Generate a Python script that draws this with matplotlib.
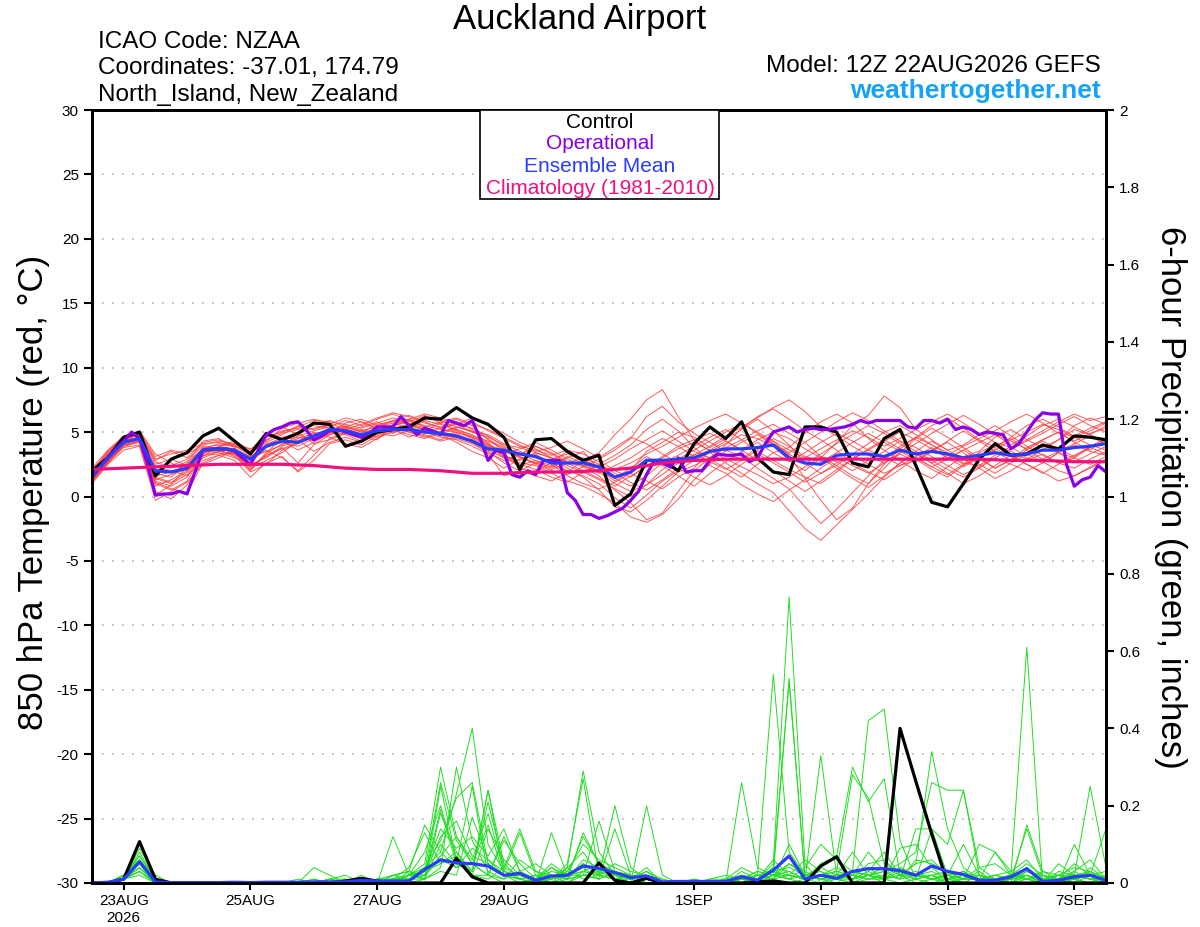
import matplotlib
matplotlib.use('Agg')
import matplotlib.pyplot as plt
from matplotlib.patches import Rectangle
import pandas as pd

plt.rcParams['font.family'] = ['Liberation Sans', 'DejaVu Sans']
plt.rcParams['axes.unicode_minus'] = False

# time axes (GEFS run 12Z 22AUG2026)
times6 = pd.date_range('2026-08-22 12:00', periods=65, freq='6h')
times3 = pd.date_range('2026-08-22 12:00', periods=129, freq='3h')
times12 = pd.date_range('2026-08-22 12:00', periods=33, freq='12h')

tick_dates = ['2026-08-23', '2026-08-25', '2026-08-27', '2026-08-29',
              '2026-09-01', '2026-09-03', '2026-09-05', '2026-09-07']
tick_labels = ['23AUG\n2026', '25AUG', '27AUG', '29AUG', '1SEP', '3SEP', '5SEP', '7SEP']

# 850 hPa temperature (C)
control_t = [2.0, 3.0, 4.6, 5.0, 1.6, 2.9, 3.4, 4.7, 5.3, 4.3, 3.3, 4.9, 4.4, 4.9, 5.7, 5.6,
             3.9, 4.3, 5.0, 5.2, 5.4, 6.1, 6.0, 6.9, 6.1, 5.6, 4.6, 2.1, 4.4, 4.5, 3.5, 2.8,
             3.2, -0.7, 0.2, 2.8, 2.8, 2.0, 4.1, 5.4, 4.5, 5.8, 3.0, 1.9, 1.7, 5.4, 5.4, 5.0,
             2.6, 2.3, 4.5, 5.2, 2.4, -0.45, -0.8, 1.0, 2.9, 4.1, 3.2, 3.3, 4.0, 3.7, 4.7, 4.6,
             4.4]
mean_t = [1.5, 3.0, 4.2, 4.5, 2.0, 1.9, 2.2, 3.6, 3.7, 3.6, 2.9, 3.9, 4.3, 4.2, 4.7, 5.2,
          5.1, 4.8, 5.1, 5.2, 5.2, 5.0, 4.9, 4.7, 4.3, 3.7, 3.6, 3.3, 3.1, 2.6, 2.6, 2.6,
          2.3, 1.5, 1.9, 2.8, 2.8, 2.9, 3.0, 3.5, 3.7, 3.7, 3.8, 4.0, 3.0, 2.6, 2.5, 3.2,
          3.3, 3.3, 3.1, 3.6, 3.3, 3.5, 3.3, 3.0, 3.2, 3.4, 3.2, 3.3, 3.6, 3.6, 3.8, 3.9,
          4.1]
oper_t = [1.5, 2.3, 3.0, 3.7, 4.3, 5.0, 4.5, 2.5, 0.1, 0.2, 0.2, 0.4, 0.2, 1.9, 3.6, 3.7,
          3.7, 3.7, 3.5, 3.0, 2.5, 3.6, 4.8, 5.2, 5.4, 5.7, 5.8, 5.2, 4.4, 4.7, 5.1, 5.2,
          5.0, 4.8, 4.6, 4.9, 5.4, 5.4, 5.4, 6.2, 5.5, 4.8, 5.3, 5.1, 4.8, 5.9, 5.7, 5.5,
          5.9, 4.5, 2.8, 3.6, 3.4, 1.7, 1.5, 2.0, 1.7, 2.8, 2.8, 2.8, 0.3, -0.3, -1.4, -1.4,
          -1.7, -1.5, -1.2, -0.9, -0.3, 0.4, 1.7, 2.8, 2.6, 2.3, 3.0, 1.9, 2.0, 2.0, 2.8, 3.3,
          3.2, 3.2, 3.3, 2.7, 3.0, 4.1, 5.0, 5.2, 5.4, 5.0, 5.2, 5.3, 5.2, 5.2, 5.3, 5.4,
          5.6, 5.9, 5.7, 5.9, 5.9, 5.9, 5.9, 5.4, 5.3, 5.9, 5.9, 5.7, 6.0, 5.2, 5.4, 5.2,
          4.8, 5.0, 4.9, 4.8, 3.7, 4.1, 5.0, 5.9, 6.5, 6.4, 6.4, 2.5, 0.8, 1.3, 1.5, 2.4,
          1.9]
clim_t = [2.1, 2.2, 2.3, 2.4, 2.5, 2.5, 2.5, 2.4, 2.2, 2.1, 2.1, 2.0, 1.8, 1.8, 1.9, 1.9,
          2.0, 2.2, 2.6, 2.8, 2.9, 2.9, 2.9, 2.9, 2.9, 2.9, 2.9, 2.9, 2.9, 2.8, 2.8, 2.7,
          2.7]

# ensemble members, temperature
t01 = [1.8, 3.2, 4.4, 4.8, 2.5, 2.9, 2.4, 3.8, 4.0, 3.9, 3.2, 4.6, 5.1, 5.3, 5.6, 5.9, 5.4, 5.0, 5.6, 5.8, 6.0, 5.5, 5.2, 5.0, 4.6, 4.2, 3.0, 2.4, 2.8, 2.2, 3.0, 3.5, 2.1, 1.2, 2.0, 3.5, 4.2, 5.0, 4.6, 3.8, 4.5, 5.2, 6.0, 5.1, 4.0, 2.6, 1.8, 2.4, 3.3, 4.1, 5.0, 5.5, 4.8, 4.0, 3.2, 2.5, 3.0, 3.6, 4.4, 5.0, 5.6, 5.2, 4.7, 5.3, 5.8]
t02 = [1.3, 2.8, 4.0, 4.3, 1.2, 0.8, 1.5, 3.2, 3.5, 3.3, 2.5, 3.0, 3.8, 2.6, 4.0, 4.8, 5.2, 4.6, 4.4, 5.5, 5.9, 5.4, 4.8, 4.2, 3.5, 3.0, 2.2, 2.9, 3.4, 3.0, 2.2, 1.5, 0.5, -0.8, -1.2, -0.3, 0.8, 1.9, 2.4, 3.0, 3.8, 4.4, 5.1, 5.6, 4.9, 4.2, 3.1, 2.4, 1.6, 1.0, 2.2, 3.4, 4.5, 5.3, 4.6, 3.8, 3.0, 2.2, 2.9, 3.8, 4.4, 5.0, 4.2, 3.6, 4.5]
t03 = [1.6, 3.0, 4.3, 4.9, 2.8, 3.5, 3.0, 4.2, 4.4, 4.0, 3.4, 4.2, 4.8, 5.5, 5.2, 5.6, 6.1, 5.8, 5.2, 5.0, 5.6, 6.2, 5.9, 5.4, 5.0, 4.8, 4.1, 3.5, 3.0, 2.6, 2.0, 1.8, 2.5, 3.2, 4.0, 5.2, 6.0, 5.1, 3.8, 2.9, 2.2, 1.5, 2.5, 3.4, 3.8, 4.9, 5.8, 6.4, 5.7, 4.5, 3.6, 2.8, 2.0, 1.4, 2.3, 3.1, 3.5, 4.6, 5.2, 4.4, 3.8, 4.4, 5.5, 6.1, 5.6]
t04 = [2.0, 3.5, 4.6, 4.7, 1.5, 1.1, 1.9, 3.5, 3.8, 3.5, 2.9, 3.6, 3.0, 2.0, 3.2, 4.5, 5.0, 5.4, 5.8, 5.2, 4.6, 5.1, 5.7, 6.0, 5.5, 4.4, 3.8, 3.2, 3.9, 3.4, 2.7, 2.3, 1.6, 0.5, -0.5, -1.8, -1.3, 0.4, 2.0, 3.0, 3.3, 2.9, 3.8, 4.3, 3.2, 1.4, -0.3, -1.8, -0.9, 1.0, 2.5, 3.7, 4.6, 4.0, 3.4, 2.6, 2.4, 3.2, 3.9, 3.0, 2.6, 3.4, 4.0, 3.5, 3.2]
t05 = [1.2, 2.6, 3.9, 4.2, 0.4, -0.2, 0.9, 2.8, 3.2, 3.4, 2.0, 3.3, 4.1, 4.5, 4.9, 5.0, 4.8, 4.3, 4.9, 5.3, 5.0, 4.8, 4.4, 4.9, 4.2, 3.5, 2.6, 2.0, 1.6, 1.2, 1.9, 2.8, 3.4, 4.8, 6.0, 7.5, 8.3, 6.2, 4.4, 3.5, 4.1, 4.8, 4.5, 3.9, 2.8, 2.0, 3.0, 4.2, 5.5, 6.3, 7.8, 6.9, 5.2, 4.4, 3.6, 4.0, 4.8, 5.5, 4.7, 3.9, 3.2, 2.6, 3.0, 3.8, 4.3]
t06 = [1.7, 3.1, 4.1, 4.4, 2.0, 2.4, 2.9, 3.9, 3.6, 3.2, 1.9, 2.5, 3.6, 4.1, 4.6, 5.2, 5.5, 5.1, 5.4, 5.7, 5.3, 4.9, 5.3, 5.6, 5.0, 4.6, 4.0, 3.8, 3.4, 3.0, 2.7, 2.4, 2.0, 1.4, 0.8, 1.6, 2.6, 3.2, 3.9, 4.6, 5.2, 4.4, 3.5, 2.8, 2.1, 1.5, 1.0, 1.9, 2.9, 3.6, 3.1, 2.4, 2.8, 3.6, 4.2, 3.4, 2.5, 1.8, 2.6, 3.3, 2.7, 2.0, 1.6, 2.2, 2.8]
t07 = [1.4, 2.9, 4.5, 5.1, 3.3, 2.6, 2.0, 3.1, 3.9, 4.3, 3.6, 4.9, 5.4, 4.8, 4.3, 5.0, 5.7, 6.0, 5.5, 5.9, 6.3, 5.8, 5.3, 5.8, 5.2, 4.1, 3.2, 2.6, 2.4, 1.8, 1.2, 0.8, 0.2, -0.5, -1.6, -2.0, -1.4, -0.2, 1.3, 2.5, 3.6, 3.1, 2.2, 1.4, 0.6, -0.8, -2.1, -1.0, 0.3, 1.6, 2.8, 3.9, 4.6, 5.5, 6.1, 5.3, 4.4, 3.8, 4.6, 5.5, 6.0, 5.4, 4.6, 5.1, 5.7]
t08 = [1.9, 3.3, 4.3, 4.6, 1.0, 0.5, 1.2, 3.3, 3.9, 3.7, 3.1, 4.0, 4.6, 4.9, 5.3, 5.5, 4.9, 4.5, 5.1, 5.5, 5.8, 6.3, 5.7, 5.2, 4.8, 4.0, 3.6, 3.1, 2.6, 2.9, 3.3, 2.8, 2.3, 2.9, 3.7, 4.4, 5.1, 4.3, 3.5, 3.0, 4.0, 5.3, 6.2, 6.8, 6.0, 5.1, 4.4, 3.6, 2.6, 1.9, 1.3, 2.1, 3.0, 2.3, 1.7, 2.5, 3.4, 4.0, 3.5, 2.9, 3.6, 4.4, 5.2, 4.8, 4.2]
t09 = [1.1, 2.7, 3.8, 4.0, 0.1, 0.9, 2.3, 3.6, 3.4, 3.0, 2.6, 3.8, 4.3, 3.6, 4.2, 4.9, 5.3, 4.8, 4.6, 5.0, 5.4, 5.0, 4.6, 4.4, 3.9, 3.3, 1.6, 2.0, 2.6, 2.3, 3.1, 2.6, 1.9, 1.0, 0.4, 0.9, 1.7, 2.6, 3.3, 2.7, 2.1, 2.8, 3.6, 4.5, 3.9, 3.1, 2.7, 3.4, 4.2, 4.9, 4.2, 3.5, 2.9, 2.1, 1.5, 2.4, 3.1, 3.9, 4.5, 3.6, 2.9, 3.5, 4.1, 4.7, 4.0]
t10 = [2.2, 3.6, 4.7, 4.9, 2.9, 3.3, 3.6, 4.1, 4.2, 3.9, 3.5, 4.6, 5.0, 5.4, 5.9, 5.8, 5.6, 5.3, 5.7, 6.1, 5.7, 5.3, 5.0, 5.3, 5.8, 5.1, 4.5, 3.9, 3.6, 3.2, 3.6, 3.3, 2.7, 2.1, 2.6, 3.3, 3.9, 4.6, 5.3, 5.9, 6.4, 5.7, 5.0, 4.3, 3.6, 3.0, 3.7, 4.4, 5.1, 4.6, 3.9, 4.5, 5.2, 5.8, 6.4, 5.7, 4.9, 4.2, 3.8, 4.3, 4.9, 5.6, 6.2, 5.5, 5.0]
t11 = [1.5, 3.0, 4.1, 4.5, 1.8, 1.5, 2.6, 4.3, 4.5, 3.8, 2.2, 2.8, 3.4, 4.3, 5.0, 4.6, 4.1, 3.8, 4.5, 5.1, 5.5, 5.2, 4.9, 4.6, 4.4, 3.8, 3.1, 2.8, 3.3, 2.5, 1.6, 1.0, 0.6, 1.1, 1.8, 1.2, 0.6, 1.5, 2.2, 3.6, 4.3, 3.6, 4.4, 5.0, 4.5, 3.7, 3.0, 2.2, 1.4, 0.7, 1.6, 2.6, 3.5, 4.3, 3.6, 2.9, 2.2, 1.4, 2.0, 2.8, 3.3, 2.6, 2.2, 2.9, 3.5]
t12 = [1.0, 2.5, 3.6, 3.9, -0.3, 0.4, 1.1, 2.5, 3.0, 3.6, 2.4, 3.1, 3.9, 4.4, 3.5, 4.2, 4.6, 4.2, 4.8, 5.6, 6.0, 6.4, 6.1, 5.7, 5.3, 4.7, 3.9, 3.3, 2.8, 2.4, 2.0, 1.6, 1.0, -0.1, -0.9, 0.1, 1.2, 2.0, 2.8, 3.4, 2.6, 1.8, 1.0, 0.3, -1.1, -2.5, -3.4, -2.2, -1.0, 0.2, 1.5, 2.6, 3.4, 2.6, 1.8, 1.0, 1.6, 2.4, 3.2, 2.5, 1.9, 1.2, 1.6, 2.3, 2.9]
t13 = [1.6, 3.2, 4.4, 4.6, 2.3, 2.0, 1.6, 3.0, 3.5, 3.7, 3.0, 3.5, 4.0, 4.7, 5.1, 5.4, 5.9, 5.5, 6.0, 6.4, 5.9, 5.4, 5.8, 6.1, 5.6, 5.2, 4.6, 4.0, 3.5, 3.8, 4.3, 3.7, 3.0, 3.8, 4.6, 4.1, 3.3, 2.6, 3.2, 3.9, 4.7, 5.4, 6.1, 6.9, 7.5, 6.6, 5.4, 4.7, 3.9, 3.2, 2.6, 3.4, 4.1, 4.9, 5.6, 6.3, 5.6, 4.8, 4.0, 4.7, 5.5, 6.0, 5.4, 4.8, 5.5]
t14 = [1.3, 2.7, 4.0, 4.3, 1.4, 1.0, 1.7, 3.4, 3.6, 3.1, 2.1, 3.4, 4.5, 5.0, 4.1, 4.4, 4.9, 5.2, 4.9, 4.7, 5.1, 4.7, 4.3, 4.6, 4.2, 3.6, 3.0, 2.5, 2.1, 1.5, 1.1, 1.9, 2.4, 2.0, 1.5, 2.4, 3.0, 3.7, 4.2, 3.6, 2.9, 2.3, 1.7, 1.0, 1.5, 2.3, 3.1, 2.7, 2.0, 2.8, 3.5, 4.3, 3.8, 3.1, 2.4, 1.7, 2.3, 3.0, 2.5, 2.0, 2.6, 3.4, 3.0, 2.5, 3.1]
t15 = [1.8, 3.4, 4.5, 4.8, 2.7, 2.2, 2.7, 3.7, 4.1, 4.0, 3.3, 4.4, 4.9, 5.2, 5.5, 5.3, 5.1, 4.8, 5.3, 5.9, 5.6, 5.1, 4.7, 5.0, 4.5, 3.9, 3.3, 3.7, 4.2, 3.6, 2.9, 2.4, 1.8, 2.4, 3.0, 3.8, 4.5, 3.9, 3.1, 2.4, 1.8, 0.9, 0.2, -0.4, 0.5, 1.3, 2.2, 3.0, 2.4, 1.8, 2.6, 3.3, 2.7, 3.5, 4.3, 5.1, 4.3, 3.5, 2.8, 3.6, 4.3, 3.7, 3.1, 3.9, 4.5]
t16 = [1.5, 2.9, 4.2, 4.5, 1.1, 0.6, 0.3, 2.6, 3.2, 2.8, 1.5, 2.6, 3.1, 1.9, 2.8, 4.1, 4.4, 4.0, 4.7, 5.2, 4.8, 4.5, 4.9, 5.2, 4.7, 4.3, 3.7, 3.1, 2.5, 2.0, 1.7, 2.3, 2.9, 3.6, 4.5, 6.2, 7.0, 5.8, 4.9, 4.2, 3.5, 4.2, 4.8, 4.0, 3.3, 2.5, 3.3, 4.1, 4.8, 5.5, 4.9, 4.1, 3.3, 2.6, 3.2, 3.9, 4.5, 5.1, 5.8, 6.4, 5.7, 4.9, 4.3, 4.9, 5.3]
t17 = [1.9, 3.5, 4.6, 5.0, 3.1, 3.6, 3.3, 4.0, 4.3, 4.1, 3.7, 4.3, 5.3, 5.7, 6.0, 5.7, 5.2, 5.6, 6.1, 6.5, 6.2, 5.7, 5.4, 5.6, 6.1, 5.5, 4.9, 4.2, 3.7, 3.0, 2.4, 1.9, 1.3, 0.6, 0.0, 0.9, 2.1, 2.9, 3.6, 4.3, 5.0, 5.7, 4.9, 4.1, 3.4, 4.2, 5.0, 5.8, 6.5, 5.9, 5.1, 4.3, 3.5, 2.8, 2.1, 1.5, 2.2, 3.0, 3.7, 4.4, 5.1, 5.8, 6.4, 5.9, 6.2]
t18 = [1.2, 2.6, 3.9, 4.3, 0.8, 1.3, 2.0, 3.2, 3.3, 3.5, 2.8, 3.9, 4.2, 3.9, 4.5, 5.1, 5.4, 5.0, 5.2, 5.4, 5.0, 4.6, 5.0, 5.4, 5.1, 4.5, 3.5, 3.0, 2.6, 2.1, 2.6, 3.0, 2.5, 1.8, 1.1, 0.5, 1.3, 2.2, 1.5, 0.9, 1.6, 2.5, 3.3, 2.6, 1.9, 1.1, 1.8, 2.6, 3.2, 2.5, 1.8, 2.4, 3.1, 3.8, 3.0, 2.3, 3.0, 3.7, 3.1, 2.5, 1.8, 2.5, 3.2, 3.8, 3.3]
t19 = [1.6, 3.1, 4.2, 4.4, 1.6, 1.9, 2.5, 3.7, 3.8, 3.3, 2.3, 3.2, 3.7, 4.2, 4.8, 5.0, 5.4, 5.8, 5.3, 4.9, 5.4, 5.9, 5.6, 5.1, 4.6, 4.0, 3.4, 2.2, 1.8, 2.7, 3.5, 2.9, 2.2, 1.4, 2.2, 3.1, 2.4, 1.6, 0.8, 1.8, 2.7, 3.5, 4.2, 3.4, 2.7, 3.4, 4.2, 4.9, 4.3, 3.6, 4.3, 5.0, 4.4, 3.7, 3.0, 3.6, 4.2, 4.8, 4.3, 3.7, 4.4, 5.0, 4.6, 4.0, 3.6]
t20 = [1.4, 2.8, 4.1, 4.6, 1.3, 1.7, 2.1, 3.4, 3.7, 3.6, 3.0, 4.1, 4.4, 4.6, 4.4, 4.8, 5.1, 4.7, 5.0, 5.3, 5.6, 5.2, 4.8, 4.5, 4.1, 3.4, 2.8, 3.3, 3.9, 3.3, 2.6, 2.0, 1.4, 0.8, 1.6, 2.3, 3.1, 3.9, 4.4, 4.9, 4.3, 3.6, 2.8, 2.0, 1.2, 0.4, 1.2, 2.1, 2.9, 3.7, 4.4, 3.7, 3.0, 2.3, 2.9, 3.6, 2.9, 2.2, 2.8, 3.4, 4.0, 3.4, 2.7, 3.3, 3.9]
temp_members = [t01, t02, t03, t04, t05, t06, t07, t08, t09, t10,
                t11, t12, t13, t14, t15, t16, t17, t18, t19, t20]

# 6-hour precipitation (inches)
control_p = [0, 0, .01, .107, .01, 0, 0, 0, 0, 0, 0, 0, 0, 0, 0, 0,
             .005, .012, .005, 0, 0, 0, 0, .064, .016, 0, 0, 0, 0, 0, 0, 0,
             .052, .007, 0, .012, 0, 0, 0, 0, 0, 0, .003, .005, 0, 0, .044, .068,
             0, 0, 0, .40, .263, .127, 0, 0, 0, 0, 0, 0, 0, 0, 0, 0,
             0]
mean_p = [0, .002, .01, .055, .003, .001, .001, .001, .001, .002, .001, .002, .002, .002, .003, .003,
          .003, .007, .005, .005, .005, .035, .06, .052, .05, .044, .02, .025, .007, .018, .02, .044,
          .038, .027, .014, .018, .003, .004, .004, .004, .004, .016, .007, .033, .07, .01, .02, .012,
          .03, .037, .037, .032, .02, .044, .03, .022, .007, .007, .016, .037, .004, .007, .016, .02,
          .007]

p01 = [0, 0, .01, .03, 0, 0, 0, 0, 0, 0, 0, 0, 0, 0, .01, 0, 0, .01, 0, 0, .02, .05, .30, .12, .05, .02, 0, 0, .01, 0, .04, .29, .08, .02, 0, 0, 0, 0, 0, 0, 0, .03, .01, .05, .74, .05, 0, .02, .01, .03, .08, .02, 0, .01, .02, 0, 0, 0, .01, .02, 0, 0, .01, 0, 0]
p02 = [0, 0, .02, .05, .01, 0, 0, 0, 0, 0, 0, 0, 0, 0, 0, .01, 0, 0, .01, .02, .03, .15, .08, .23, .40, .10, .03, .01, 0, .02, .01, .05, .02, .01, 0, .02, .01, 0, 0, 0, .01, 0, .02, .54, .08, .02, .01, 0, .03, .42, .45, .11, .01, .02, 0, 0, 0, .01, 0, .03, .02, .01, 0, .04, .01]
p03 = [0, 0, .01, .09, .02, 0, 0, 0, 0, 0, 0, 0, 0, 0, 0, 0, 0, 0, 0, .12, .02, .01, .25, .06, .03, .24, .05, .01, .02, 0, 0, .02, .16, .03, .01, .02, 0, 0, 0, 0, 0, .26, .04, .02, .01, 0, .02, .01, 0, .02, .01, 0, .01, .14, .10, .24, .04, .01, 0, .15, .03, .01, .02, .01, 0]
p04 = [0, 0, .01, .04, 0, 0, 0, 0, 0, 0, 0, 0, 0, 0, .04, .02, 0, 0, .01, .01, .01, .02, .19, .05, .25, .02, .12, .03, 0, .01, .05, .27, .02, .20, .04, .01, 0, 0, 0, .01, .02, .01, 0, .02, .53, .01, .33, .02, .01, .02, 0, 0, .01, .02, 0, .01, .10, .08, .02, .61, 0, .01, .02, .25, .04]
p05 = [0, 0, .02, .06, .01, 0, 0, 0, 0, 0, 0, 0, 0, .01, 0, 0, 0, .02, 0, .01, .04, .13, .05, .08, .03, .21, .04, .14, .03, .02, 0, .03, .02, .01, 0, .20, .02, 0, .01, 0, 0, .02, .01, .03, .02, .01, .05, .07, .30, .21, .27, .02, .01, 0, .01, .03, 0, .01, .02, .02, 0, 0, .10, .02, .14]
p06 = [0, 0, .01, .02, 0, 0, 0, 0, 0, 0, 0, 0, 0, 0, 0, .01, .01, 0, 0, .02, .01, .03, .26, .11, .05, .15, .02, 0, .01, .04, .02, .12, .05, .03, .02, 0, 0, 0, 0, 0, .01, 0, .02, .01, .05, .03, .01, .02, .01, .05, .06, .02, .05, .34, .14, .04, .01, 0, .01, .14, .02, 0, .01, .02, 0]
p07 = [0, 0, .02, .07, .01, 0, 0, 0, 0, 0, 0, 0, 0, 0, 0, 0, 0, 0, .01, 0, .02, .08, .20, .06, .02, .02, .11, .05, .01, .03, .02, .04, .01, .14, .02, .01, 0, 0, 0, 0, 0, .01, .01, .02, .03, .01, .02, .04, .02, .08, .03, .05, .08, .26, .24, .24, .02, .01, 0, .02, 0, .02, .04, .03, .01]
p08 = [0, 0, .01, .05, 0, 0, 0, 0, 0, 0, 0, 0, 0, 0, 0, 0, 0, 0, 0, .01, .02, .04, .11, .22, .26, .05, .02, .01, 0, .01, .04, .08, .02, .01, .01, .03, .01, 0, 0, 0, 0, .01, 0, .04, .52, .02, .03, .01, 0, .01, .02, .04, .02, .01, 0, .01, .03, 0, .01, .04, 0, .05, .02, .01, 0]
p09 = [0, 0, .01, .03, 0, 0, 0, 0, 0, 0, 0, 0, 0, 0, 0, 0, 0, 0, 0, 0, .01, .02, .07, .12, .06, .18, .03, .13, .02, 0, .01, .02, .03, .01, 0, 0, 0, 0, .01, 0, 0, .01, .02, .01, 0, .01, .02, .03, .28, .22, .05, .03, .02, .01, .02, .03, .01, .08, .03, .01, 0, .01, .05, .02, .03]
p10 = [0, 0, .01, .08, .01, 0, 0, 0, 0, 0, 0, 0, 0, 0, 0, .01, .02, 0, .01, .01, 0, .01, .04, .30, .11, .03, .01, .03, .05, .02, .01, .06, .04, .02, .01, .04, 0, 0, 0, .01, .01, .04, .02, .01, .10, .02, .01, .02, .03, .02, .01, .09, .10, .04, .01, .02, .02, 0, 0, .01, .02, .01, .01, .03, 0]
p11 = [0, 0, .01, .04, 0, 0, 0, 0, 0, 0, 0, 0, 0, 0, .01, 0, 0, 0, 0, 0, .03, .02, .06, .04, .09, .06, .02, .02, 0, .13, .02, .03, .05, .02, 0, .01, 0, 0, 0, 0, 0, .01, .03, .02, .01, .02, .04, .02, .08, .02, .03, .01, .14, .14, .02, .10, .02, .01, .01, .01, .03, .02, .01, 0, .02]
p12 = [0, 0, .02, .06, .01, 0, 0, 0, 0, 0, 0, 0, 0, 0, 0, 0, 0, 0, 0, 0, .01, .01, .10, .05, .03, .24, .02, .01, .02, .01, .03, .10, .06, .04, .02, .01, 0, 0, 0, 0, 0, 0, .01, .02, .05, .02, .01, .01, .02, .04, .01, .02, .03, .01, .02, .01, .01, .02, .03, .06, .01, 0, .03, .06, .01]
p13 = [0, 0, .01, .05, .01, 0, 0, 0, 0, 0, 0, 0, 0, 0, 0, .01, 0, .01, 0, .01, .02, .03, .14, .09, .12, .07, .14, .03, .01, 0, .02, .02, .01, .03, .01, 0, 0, 0, 0, 0, .01, .02, .01, .06, .02, .01, 0, .01, .02, .01, .02, .01, .06, .05, .03, .01, .04, .05, .02, .01, 0, .03, .02, .01, .01]
p14 = [0, 0, .01, .04, 0, 0, 0, 0, 0, 0, 0, 0, 0, 0, 0, 0, 0, 0, 0, .02, .03, .01, .18, .08, .02, .01, .04, .02, .01, .05, .02, .03, .02, .05, .03, .02, 0, 0, 0, 0, 0, .01, .02, .03, .01, .04, .10, .06, .03, .02, .03, .01, .02, .02, .01, .01, .01, .01, .02, .05, .02, .01, 0, .02, 0]
p15 = [0, 0, .02, .06, .01, 0, 0, 0, 0, 0, 0, 0, 0, 0, 0, 0, .01, 0, 0, 0, .01, .02, .12, .16, .07, .05, .02, .01, .02, .02, .01, .13, .05, .02, .01, 0, 0, 0, 0, 0, 0, .02, .01, .01, .02, .01, .02, .02, .01, .03, .01, .02, .02, .01, .01, 0, .02, .01, .01, .03, .01, .02, .02, .01, .02]
p16 = [0, 0, .01, .03, 0, 0, 0, 0, 0, 0, 0, 0, 0, 0, 0, 0, 0, 0, 0, 0, .02, .01, .03, .02, .17, .06, .03, .02, .01, .01, .04, .01, .02, .01, .02, .01, 0, 0, 0, 0, 0, .01, .03, .02, .02, .06, .03, .01, .01, .02, .04, .02, .05, .06, .02, .01, .01, .02, .01, .04, .01, .01, .03, .01, .01]
p17 = [0, 0, .02, .05, .01, 0, 0, 0, 0, 0, 0, 0, 0, 0, 0, 0, 0, 0, 0, .01, .01, .04, .08, .04, .05, .02, .01, .06, .03, .01, .02, .05, .03, .02, .01, .03, 0, 0, 0, 0, .01, 0, .01, .04, .03, .01, .02, .03, .02, .01, .01, .04, .02, .03, .01, .02, .01, .02, .01, .02, .01, .01, .02, .03, .01]
p18 = [0, 0, .01, .07, .01, 0, 0, 0, 0, 0, 0, 0, 0, 0, 0, 0, 0, 0, 0, 0, .02, .03, .05, .07, .02, .14, .06, .02, .01, .04, .01, .02, .01, .03, .02, .01, 0, 0, 0, 0, 0, .02, .01, .03, .04, .02, .01, .02, .01, .02, .01, .03, .01, .02, .03, .01, .01, .01, .02, .01, .01, .02, .01, .02, .01]
precip_members = [p01, p02, p03, p04, p05, p06, p07, p08, p09,
                  p10, p11, p12, p13, p14, p15, p16, p17, p18]

RED = '#ff3c3c'
GREEN = '#22dd22'
PURPLE = '#8a00e6'
BLUE = '#2a3cff'
PINK = '#f0107f'

fig = plt.figure(figsize=(12, 9.27), dpi=100)
ax = fig.add_axes([92/1200, 1 - 883/927, 1014/1200, 773/927])
ax2 = ax.twinx()

# temperature panel
for v in range(-25, 30, 5):
    ax.axhline(v, color='#b4b4b4', lw=1.2, ls=(0, (1, 5)), zorder=0)
for m in temp_members:
    ax.plot(times6, m, color=RED, lw=0.7, alpha=0.85)
ax.plot(times6, control_t, color='black', lw=2.3)
ax.plot(times3, oper_t, color=PURPLE, lw=2.3)
ax.plot(times6, mean_t, color=BLUE, lw=2.3)
ax.plot(times12, clim_t, color=PINK, lw=2.3)

ax.set_xlim(times6[0], times6[-1])
ax.set_ylim(-30, 30)
ax.set_yticks(range(-30, 31, 5))
ax.set_xticks(pd.to_datetime(tick_dates))
ax.set_xticklabels(tick_labels, fontsize=11, linespacing=1.25)
ax.tick_params(axis='y', labelsize=11, length=6, width=1.5, direction='out')
ax.tick_params(axis='x', length=5, width=1.5, direction='out', pad=3)
for s in ax.spines.values():
    s.set_linewidth(2)

# precipitation panel
for m in precip_members:
    ax2.plot(times6, m, color=GREEN, lw=0.7)
ax2.plot(times6, control_p, color='black', lw=2.3)
ax2.plot(times6, mean_p, color=BLUE, lw=2.3)
ax2.set_ylim(0, 2)
ax2.set_yticks([0, 0.2, 0.4, 0.6, 0.8, 1, 1.2, 1.4, 1.6, 1.8, 2])
ax2.set_yticklabels(['0', '0.2', '0.4', '0.6', '0.8', '1', '1.2', '1.4', '1.6', '1.8', '2'])
ax2.tick_params(axis='y', labelsize=11, length=6, width=1.5, direction='out')
for s in ax2.spines.values():
    s.set_linewidth(2)

# axis titles
fig.text(34/1200, 1 - 492/927, '850 hPa Temperature (red, °C)', fontsize=25,
         rotation=90, ha='center', va='center')
fig.text(1170/1200, 1 - 497/927, '6-hour Precipitation (green, inches)', fontsize=25,
         rotation=270, ha='center', va='center')

# header text
fig.text(580/1200, 1 - 20/927, 'Auckland Airport', fontsize=25, ha='center', va='center')
fig.text(98/1200, 1 - 42/927, 'ICAO Code: NZAA', fontsize=17.5, va='center')
fig.text(98/1200, 1 - 68/927, 'Coordinates: -37.01, 174.79', fontsize=17.5, va='center')
fig.text(98/1200, 1 - 95/927, 'North_Island, New_Zealand', fontsize=17.5, va='center')
fig.text(1101/1200, 1 - 66/927, 'Model: 12Z 22AUG2026 GEFS', fontsize=17.5, ha='right', va='center')
fig.text(1101/1200, 1 - 91/927, 'weathertogether.net', fontsize=19, fontweight='bold',
         color='#16a3f7', ha='right', va='center')

# legend box
fig.add_artist(Rectangle((480/1200, 1 - 199/927), 239/1200, 89/927, transform=fig.transFigure,
                         facecolor='white', edgecolor='black', lw=1.2, zorder=5))
leg = [('Control', 'black', 123), ('Operational', PURPLE, 144),
       ('Ensemble Mean', BLUE, 166), ('Climatology (1981-2010)', PINK, 188)]
for txt, col, yy in leg:
    fig.text(600/1200, 1 - yy/927, txt, fontsize=15, color=col, ha='center', va='center', zorder=6)

fig.savefig('out.png', dpi=100)
